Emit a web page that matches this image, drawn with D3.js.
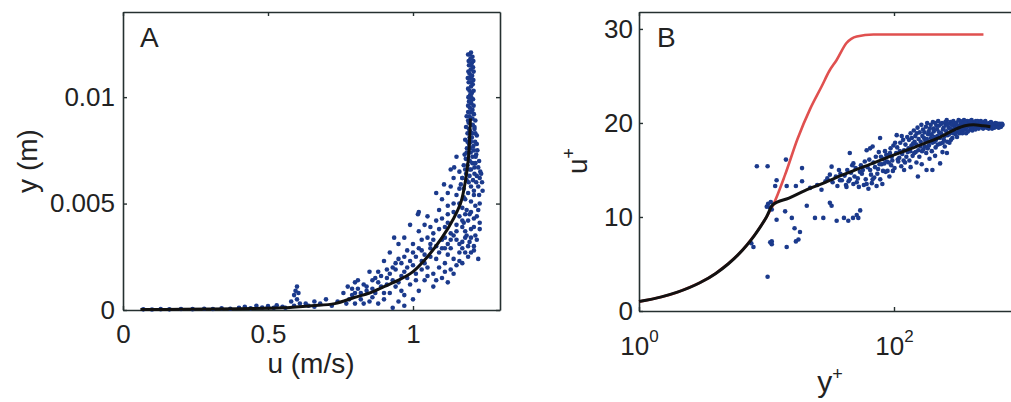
<!DOCTYPE html>
<html><head><meta charset="utf-8">
<script src="https://cdn.jsdelivr.net/npm/d3@7"></script>
<style>
body{margin:0;background:#fff}
svg{display:block}
text{font-family:"Liberation Sans",Arial,Helvetica,sans-serif;fill:#222}
</style>
</head><body>
<svg id="c" width="1011" height="402"></svg>
<script>
// ---------- Panel A data: u (m/s), y (m) ----------
const aXTicks = [0, 0.5, 1];
const aYTicks = [0, 0.005, 0.01];
const aScatter = [
 [0.07,0.00003],[0.1,0.00002],[0.13,0.00004],[0.16,0.00003],[0.2,0.00005],[0.24,0.00004],[0.28,0.00006],[0.31,0.00005],
 [0.34,0.00008],[0.37,0.00006],[0.4,0.0001],[0.42,0.00015],[0.44,0.00008],[0.46,0.0002],[0.48,0.00012],[0.5,0.00018],
 [0.52,0.0001],[0.53,0.00022],[0.55,0.00015],[0.56,0.0001],
 [0.58,0.0004],[0.59,0.0007],[0.595,0.0009],[0.6,0.0005],[0.605,0.0008],[0.61,0.0003],[0.6,0.0011],[0.59,0.0002],
 [0.64,0.0002],[0.66,0.0004],[0.68,0.0003],[0.7,0.0005],[0.72,0.0002],[0.74,0.0004],[0.66,0.00015],[0.63,0.0003],
 [1.200,0.0121],[1.195,0.0120],[1.205,0.0119],[1.198,0.0118],[1.203,0.0116],[1.193,0.0115],[1.207,0.0114],[1.199,0.0113],
 [1.195,0.0111],[1.204,0.0110],[1.198,0.0109],[1.192,0.0107],[1.206,0.0106],[1.200,0.0105],[1.195,0.0103],[1.203,0.0102],
 [1.197,0.0101],[1.207,0.0099],[1.193,0.0098],[1.201,0.0097],[1.196,0.0095],[1.205,0.0094],
 [1.190,0.0093],[1.210,0.0092],[1.185,0.0091],[1.200,0.0090],[1.215,0.0089],[1.192,0.0088],[1.206,0.0087],[1.183,0.0086],
 [1.212,0.0085],[1.197,0.0084],[1.188,0.0083],[1.220,0.0082],[1.203,0.0081],[1.180,0.0080],[1.214,0.0079],[1.193,0.0078],
 [1.208,0.0077],[1.186,0.0076],[1.222,0.0075],
 [1.199,0.0074],[1.178,0.0073],[1.216,0.0072],[1.190,0.0071],[1.228,0.0070],[1.205,0.0069],[1.175,0.0068],[1.212,0.0067],
 [1.195,0.0066],[1.232,0.0065],[1.183,0.0064],[1.220,0.0063],[1.170,0.0062],[1.207,0.0061],[1.238,0.0060],[1.192,0.0060],
 [1.165,0.0059],[1.225,0.0058],
 [1.190,0.0120],[1.208,0.0117],[1.192,0.0117],[1.200,0.0115],[1.209,0.0112],[1.191,0.0112],[1.201,0.0110],[1.189,0.0109],
 [1.208,0.0108],[1.199,0.0107],[1.190,0.0104],[1.209,0.0103],[1.201,0.0100],[1.191,0.0100],[1.199,0.0098],[1.209,0.0096],
 [1.190,0.0096],[1.200,0.0093],[1.195,0.0091],[1.205,0.0090],[1.190,0.0089],[1.200,0.0087],[1.212,0.0086],[1.193,0.0085],
 [1.205,0.0083],[1.215,0.0083],[1.195,0.0081],[1.188,0.0079],[1.200,0.0079],[1.220,0.0078],[1.198,0.0076],[1.210,0.0075],
 [1.185,0.0074],[1.218,0.0073],[1.205,0.0072],[1.182,0.0071],[1.196,0.0070],[1.215,0.0069],[1.188,0.0068],[1.225,0.0067],
 [1.200,0.0066],[1.180,0.0066],[1.212,0.0064],[1.195,0.0063],[1.230,0.0062],[1.185,0.0061],[1.218,0.0060],[1.200,0.0058],
 [1.175,0.0057],[1.210,0.0056],[1.190,0.0055],[1.228,0.0054],[1.175,0.0053],[1.200,0.0051],[1.215,0.0049],[1.185,0.0047],
 [1.225,0.0047],[1.195,0.0045],[1.210,0.0043],[1.175,0.0041],[1.230,0.0038],[1.200,0.0038],[1.185,0.0035],[1.215,0.0035],
 [1.195,0.0032],[1.21,0.0030],[1.17,0.0029],[1.19,0.0025],[1.16,0.0023],[1.2,0.0027],
 [1.15,0.0072],[1.13,0.0066],[1.142,0.0067],[1.107,0.0059],[1.12,0.0055],[1.16,0.0057],[1.235,0.0064],[1.24,0.0056],
 [1.23,0.0050],[1.21,0.0054],[1.18,0.0052],[1.17,0.0048],[1.2,0.0046],[1.22,0.0044],[1.19,0.0042],[1.16,0.0044],
 [1.14,0.0050],[1.10,0.0052],[1.08,0.0055],[1.09,0.0047],[1.12,0.0045],[1.15,0.0040],[1.18,0.0037],[1.21,0.0039],
 [1.2,0.0034],[1.17,0.0032],[1.14,0.0035],[1.11,0.0039],[1.08,0.0042],[1.05,0.0044],[1.02,0.0046],[1.017,0.0045],
 [1.04,0.0040],[1.07,0.0036],[1.1,0.0033],[1.13,0.0029],[1.16,0.0027],[1.14,0.0024],[1.11,0.0022],[1.13,0.0019],
 [1.08,0.0030],[1.05,0.0034],[1.02,0.0037],[0.99,0.0040],[0.97,0.0034],[1.0,0.0031],[1.03,0.0028],[1.06,0.0025],
 [1.09,0.0020],[1.07,0.0017],[1.1,0.0015],[1.04,0.0022],[1.01,0.0025],[0.98,0.0028],[0.95,0.0031],[0.935,0.0034],
 [0.92,0.0027],[0.95,0.0024],[0.98,0.0020],[1.01,0.0017],[1.04,0.0014],[1.07,0.0011],[1.02,0.0009],[0.99,0.0012],
 [0.96,0.0016],[0.93,0.0020],[0.9,0.0023],[0.88,0.0018],[0.91,0.0015],[0.94,0.0011],[0.97,0.0007],[0.95,0.0004],
 [0.93,0.0001],[0.97,0.0002],[1.0,0.0005],[0.92,0.0008],[0.89,0.0011],[0.86,0.0014],[0.85,0.0018],[0.83,0.0012],
 [0.87,0.0008],[0.84,0.0009],[0.81,0.0010],[0.775,0.0011],[0.79,0.0007],[0.8,0.0013],[0.78,0.0005],[0.82,0.0005],
 [0.76,0.0008],[0.9,0.0005],[0.88,0.0003],[1.15,0.0021],[1.18,0.0027],[1.22,0.0033],[1.19,0.0030],[1.23,0.0041],
 [1.06,0.0031],[1.12,0.0026],[1.03,0.0019],[0.96,0.0009],
 [0.80,0.0008],[0.82,0.0008],[0.84,0.0011],[0.86,0.0010],[0.88,0.0013],[0.87,0.0015],[0.89,0.0016],[0.90,0.0008],
 [0.91,0.0012],[0.92,0.0017],[0.93,0.0014],[0.94,0.0019],[0.95,0.0013],[0.96,0.0022],[0.97,0.0018],[0.98,0.0015],
 [0.99,0.0023],[1.00,0.0021],[1.01,0.0014],[1.02,0.0029],[1.03,0.0023],[1.04,0.0026],[1.05,0.0020],[1.06,0.0029],
 [1.07,0.0033],[1.08,0.0024],[1.09,0.0038],[1.10,0.0029],[1.11,0.0034],[1.12,0.0041],[1.13,0.0036],[1.14,0.0046],
 [1.15,0.0033],[1.16,0.0050],[1.17,0.0042],[1.18,0.0045],[1.12,0.0049],[1.15,0.0054],[1.13,0.0058],[1.17,0.0062],
 [1.16,0.0065],[1.14,0.0062],[1.10,0.0043],[1.06,0.0039],[1.03,0.0033],[1.0,0.0027],[0.97,0.0025],[0.94,0.0022],
 [0.91,0.0019],[0.86,0.0006],[0.83,0.0003],[0.85,0.0004],[0.8,0.0003],[0.77,0.0003],[0.79,0.0010],[0.81,0.0014],
 [1.05,0.0016],[1.08,0.0014],[1.11,0.0018],[1.12,0.0013],[1.14,0.0017],[1.17,0.0022],[1.21,0.0028],[1.225,0.0024],
 [1.12,0.0031],[1.15,0.0037],[1.17,0.0039],[1.13,0.0033],[1.16,0.0031],[1.18,0.0034],[1.09,0.0027],[1.11,0.0029]
];
const aCurve = [
 [0.06,0.00002],[0.2,0.00003],[0.4,0.00006],[0.55,0.0001],[0.65,0.0002],[0.73,0.0003],[0.8,0.0006],[0.85,0.0008],
 [0.9,0.0011],[0.95,0.0014],[1.0,0.0018],[1.05,0.0025],[1.1,0.0034],[1.14,0.0043],[1.166,0.0051],[1.18,0.006],
 [1.19,0.007],[1.195,0.008],[1.198,0.009]
];

// ---------- Panel B data: y+, u+ ----------
const bXTicks = [1, 100];
const bXExp = [0, 2];
const bYTicks = [0, 10, 20, 30];
const bScatter = [
 [8.4,15.4],[10.2,15.4],[14.2,16.1],[19,15.2],[12,13.9],[14.4,13.3],[17,13.3],[19,13.8],[11.7,13.3],[10.05,11.1],
 [10.3,11.4],[10.6,11.0],[10.8,11.6],[11.0,10.8],[12,9.7],[14,10.6],[15.8,9.9],[20.7,11.2],[24,9.9],[27.9,9.9],
 [31.4,11.5],[32.4,11.2],[35.5,9.6],[40.5,9.9],[43.8,9.6],[51,10.2],[54.3,10.7],[47.7,9.9],[52.5,9.9],[16.6,8.8],
 [18.3,8.4],[17.8,7.6],[17,7.4],[14.4,6.8],[11,7.4],[11,7.1],[10.7,7.3],[7.9,6.8],[7.6,7.2],[10.2,3.65],
 [32.4,15.35],[37,15.0],[45,16.8],[48,15.7],[61,17.1],[68,17.5],[105,18.7],[31.4,14.5],[37.7,13.9],[42.4,13.2],
 [65,17.3],[77.8,18.4],[154,14.3],[180,15.0],[230,15.7],[260,16.8],
 [22,13.1],[25,13.4],[27,12.9],[29,13.8],[30,14.1],[33,13.7],[35,14.3],[36,13.3],[38,14.6],[39,13.9],
 [41,14.4],[43,15.0],[44,13.8],[46,14.7],[48,13.5],[50,15.2],[52,14.1],[53,13.2],[55,15.5],[56,14.6],
 [58,13.4],[59,15.9],[60,14.0],[62,15.3],[63,13.0],[64,16.1],[66,14.5],[67,13.6],[69,15.8],[70,14.2],
 [72,16.4],[73,13.3],[75,15.1],[76,16.9],[78,14.0],[80,15.6],[81,13.5],[83,16.2],[85,17.0],[86,14.8],
 [88,15.9],[90,16.5],[92,14.3],[94,17.3],[95,15.5],[97,16.0],[99,17.6],
 [42,13.4],[45,14.0],[47,15.5],[49,14.3],[51,13.7],[54,14.8],[57,15.0],[61,13.5],[65,15.0],[68,14.0],
 [71,15.3],[74,14.6],[77,15.6],[79,16.4],[82,14.9],[84,15.7],[87,16.6],[89,14.9],[91,15.8],[93,16.8],[96,16.4],[98,14.9],
 [101,15.2],[104,16.8],[106,17.4],[108,15.9],[110,16.3],[112,17.9],[114,15.4],[116,16.7],[118,18.2],[120,17.1],
 [122,15.8],[125,16.4],[127,18.5],[130,17.3],[132,16.0],[135,18.9],[137,17.6],[140,16.5],[143,19.2],[145,18.0],
 [148,16.9],[150,17.7],[153,19.5],[156,18.3],[158,16.4],[161,17.5],[164,19.8],[167,18.6],[170,17.2],[173,19.0],
 [176,18.1],[179,16.8],[182,20.0],[185,18.8],[188,17.6],[191,19.4],[195,18.4],[198,17.0],[202,20.1],[205,19.1],
 [208,18.0],[212,17.4],[215,19.7],[219,18.6],[222,20.2],[226,19.0],[230,17.8],[234,18.9],[238,20.0],[242,19.3],
 [246,18.2],[250,17.5],[255,19.8],[259,20.3],[263,18.7],[268,19.5],[272,17.9],[277,20.1],[282,19.0],[287,18.4],
 [292,20.2],[297,19.6],[135,15.3],[150,15.8],[165,15.6],[190,16.2],[210,16.5],[240,16.9],[200,15.0],[120,15.0],
 [102,17.9],[107,16.1],[111,17.0],[115,18.6],[119,16.0],[123,17.7],[128,16.9],[131,18.2],[134,17.0],[138,18.4],
 [141,17.8],[144,16.8],[147,18.6],[151,18.9],[155,17.1],[159,19.0],[162,18.0],[166,17.0],[169,19.3],[172,18.4],
 [175,17.5],[178,19.6],[181,18.3],[184,17.3],[187,19.1],[190,18.0],[194,19.8],[197,18.8],[200,17.9],[204,19.4],
 [207,18.5],[211,20.0],[214,18.2],[218,19.3],[221,17.7],[225,19.7],[229,18.4],[233,19.9],[237,18.7],[241,17.9],
 [245,19.5],[249,18.6],[253,20.1],[257,19.1],[261,18.0],[266,19.9],[270,18.8],[275,19.4],[280,18.2],[285,19.8],
 [290,18.9],[295,19.3],[300,20.0],
 [303,18.8],[309,20.0],[315,19.4],[321,20.3],[327,18.9],[334,19.8],[340,20.1],[347,19.2],[354,20.3],[361,19.6],
 [368,18.9],[375,20.2],[383,19.7],[390,20.0],[398,19.3],[406,20.3],[414,19.8],[422,20.1],[430,19.5],[439,20.2],
 [448,19.9],[457,19.6],[466,20.1],[475,19.8],[485,20.0],[495,19.5],[505,19.9],[515,20.1],[526,19.7],[537,19.9],
 [548,19.6],[559,20.0],[570,19.8],[582,19.6],[594,19.9],[606,19.7],[618,19.8],[630,19.6],[643,19.9],[656,19.7],
 [669,19.8],[682,19.6],[696,19.7],[710,19.8],
 [306,19.0],[312,18.5],[318,19.7],[324,19.1],[331,20.2],[337,19.4],[344,18.9],[351,19.9],[358,19.3],[365,20.0],
 [372,19.5],[380,19.1],[387,19.8],[395,20.2],[403,19.5],[411,19.2],[419,19.9],[427,19.7],[435,19.3],[444,19.8],
 [453,20.2],[462,19.4],[471,19.7],[480,20.2],[490,19.7],[500,19.4],[510,19.8],[520,20.2],[531,19.5],[542,19.9],
 [553,19.4],[564,19.7],[576,20.1],[588,19.4],[600,19.8],[612,19.5],[624,20.0],[637,19.6],[650,19.9],[663,19.5],
 [676,19.9],[690,19.6],[703,19.9]
];
const bBlack = [
 [1,1.0],[1.5,1.5],[2,2],[3,3],[4,4],[5,5],[6,6],[7,7],[8,8],[9,9],[10,10],[11.2,11.3],
 [15,12.0],[20,12.8],[28,13.6],[40,14.5],[68,15.7],[100,16.6],[126,17.1],[180,17.9],[230,18.5],
 [300,19.3],[360,19.7],[420,19.8],[500,19.7],[570,19.6]
];
const bRed = [
 [1,1.0],[2,2],[4,4],[7,7],[10,10],[11.3,11.3],[14,14.5],[17.5,18.3],[22,21.5],[27.1,23.9],
 [31,25.5],[35.5,26.7],[42.4,28.5],[51,29.2],[69,29.4],[503,29.4]
];

// ---------- drawing ----------
const svg = d3.select("#c");
svg.append("rect").attr("width",1011).attr("height",402).attr("fill","#fff");
const AX = "#253030", DOT = "#1b3a8c", FS = 26, R = 2.3;

function styleAxis(g){
  g.attr("font-size",FS).attr("font-family",'"Liberation Sans",Arial,sans-serif');
  g.selectAll("path.domain").attr("stroke",AX).attr("stroke-width",1.6);
  g.selectAll(".tick line").attr("stroke",AX).attr("stroke-width",1.4);
  g.selectAll("text").attr("fill","#222");
}

function panel(x, y, xt, yt, xfmt, yfmt, xPad, yPad){
  const [x0,x1] = x.range(), [y0,y1] = y.range();
  const gb = svg.append("g").attr("transform",`translate(0,${y0})`)
    .call(d3.axisBottom(x).tickValues(xt).tickSizeInner(-4).tickSizeOuter(0).tickPadding(xPad).tickFormat(xfmt));
  styleAxis(gb);
  const gt = svg.append("g").attr("transform",`translate(0,${y1})`)
    .call(d3.axisTop(x).tickValues(xt).tickSizeInner(-4).tickSizeOuter(0).tickFormat(""));
  styleAxis(gt);
  const gl = svg.append("g").attr("transform",`translate(${x0},0)`)
    .call(d3.axisLeft(y).tickValues(yt).tickSizeInner(-4).tickSizeOuter(0).tickPadding(yPad).tickFormat(yfmt));
  styleAxis(gl);
  const gr = svg.append("g").attr("transform",`translate(${x1},0)`)
    .call(d3.axisRight(y).tickValues(yt).tickSizeInner(-4).tickSizeOuter(0).tickFormat(""));
  styleAxis(gr);
  return {gb, gl};
}

// Panel A
const xA = d3.scaleLinear().domain([0,1.3]).range([123,500]);
const yA = d3.scaleLinear().domain([0,0.014]).range([310,12]);
const pA = panel(xA, yA, aXTicks, aYTicks, d3.format("~g"), d=> d===0?"0":d3.format("~g")(d), 0, 8);
pA.gb.selectAll(".tick text").attr("y",33).attr("dy",0);
svg.append("g").selectAll("circle").data(aScatter).join("circle")
  .attr("cx",d=>xA(d[0])).attr("cy",d=>yA(d[1])).attr("r",R).attr("fill",DOT);
svg.append("path").datum(aCurve)
  .attr("d",d3.line().x(d=>xA(d[0])).y(d=>yA(d[1])).curve(d3.curveCatmullRom))
  .attr("fill","none").attr("stroke","#111").attr("stroke-width",3);
svg.append("text").attr("x",140).attr("y",47).attr("font-size",28).text("A");
svg.append("text").attr("x",311).attr("y",373).attr("text-anchor","middle").attr("font-size",28).text("u (m/s)");
svg.append("text").attr("transform","translate(37,161) rotate(-90)").attr("text-anchor","middle").attr("font-size",28).text("y (m)");

// Panel B
const xB = d3.scaleLog().domain([1,1000]).range([639,1021.5]);
const yB = d3.scaleLinear().domain([0,31.8]).range([311,12]);
const pB = panel(xB, yB, bXTicks, bYTicks, d=>"", d3.format("d"), 0, 6);
pB.gb.selectAll(".tick text").each(function(d,i){
  const t = d3.select(this).attr("y",44).attr("dy",0).text(null);
  t.append("tspan").text("10");
  t.append("tspan").attr("font-size",17).attr("dy",-13).text(String(bXExp[i]));
});
svg.append("path").datum(bRed)
  .attr("d",d3.line().x(d=>xB(d[0])).y(d=>yB(d[1])).curve(d3.curveMonotoneX))
  .attr("fill","none").attr("stroke","#e0504f").attr("stroke-width",2.6);
svg.append("g").selectAll("circle").data(bScatter).join("circle")
  .attr("cx",d=>xB(d[0])).attr("cy",d=>yB(d[1])).attr("r",R).attr("fill",DOT);
svg.append("path").datum(bBlack)
  .attr("d",d3.line().x(d=>xB(d[0])).y(d=>yB(d[1])).curve(d3.curveMonotoneX))
  .attr("fill","none").attr("stroke","#111").attr("stroke-width",3);
svg.append("text").attr("x",657).attr("y",47).attr("font-size",28).text("B");
const yl = svg.append("text").attr("x",830).attr("y",392).attr("text-anchor","middle").attr("font-size",30);
yl.append("tspan").text("y"); yl.append("tspan").attr("font-size",18).attr("dy",-12).text("+");
const ul = svg.append("text").attr("transform","translate(587,161) rotate(-90)").attr("text-anchor","middle").attr("font-size",28);
ul.append("tspan").text("u"); ul.append("tspan").attr("font-size",18).attr("dy",-12).text("+");
</script>
</body></html>
